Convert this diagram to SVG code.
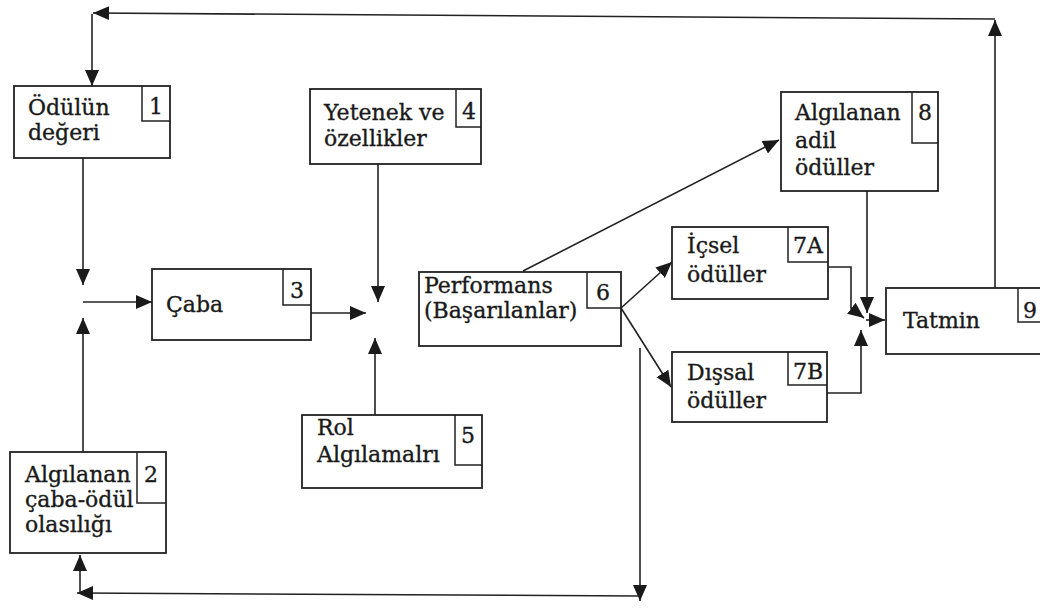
<svg xmlns="http://www.w3.org/2000/svg" width="1040" height="610" viewBox="0 0 1040 610">
<style>
.box{fill:none;stroke:#222;stroke-width:1.8}
.num{fill:none;stroke:#222;stroke-width:1.5}
.t{font-family:"DejaVu Serif","Liberation Serif",serif;font-size:22px;fill:#1a1a1a;stroke:#1a1a1a;stroke-width:0.35}
.n{font-family:"DejaVu Serif","Liberation Serif",serif;font-size:22px;fill:#1a1a1a;stroke:#1a1a1a;stroke-width:0.35;text-anchor:middle}
.c{fill:none;stroke:#222;stroke-width:1.6}
</style>
<defs>
<marker id="ah" markerUnits="userSpaceOnUse" markerWidth="18" markerHeight="16" refX="16" refY="8" orient="auto">
<path d="M0,1 L16,8 L0,15 z" fill="#1a1a1a"/>
</marker>
</defs>
<rect width="1040" height="610" fill="#fff"/>

<g id="n1">
<rect class="box" x="14" y="86" width="156" height="72"/>
<path class="num" d="M142,86 V121 H170"/>
<text class="n" x="156" y="114">1</text>
<text class="t" x="28" y="115">Ödülün</text>
<text class="t" x="28" y="140">değeri</text>
</g>

<g id="n2">
<rect class="box" x="10" y="452" width="156" height="101"/>
<path class="num" d="M137,452 V503 H166"/>
<text class="n" x="151" y="482">2</text>
<text class="t" x="25" y="482">Algılanan</text>
<text class="t" x="25" y="507">çaba-ödül</text>
<text class="t" x="25" y="532">olasılığı</text>
</g>

<g id="n3">
<rect class="box" x="152" y="269" width="159" height="71"/>
<path class="num" d="M283,269 V305 H311"/>
<text class="n" x="297" y="298">3</text>
<text class="t" x="166" y="312">Çaba</text>
</g>

<g id="n4">
<rect class="box" x="310" y="89" width="171" height="75"/>
<path class="num" d="M456,89 V127 H481"/>
<text class="n" x="469" y="119">4</text>
<text class="t" x="324" y="120">Yetenek ve</text>
<text class="t" x="324" y="146">özellikler</text>
</g>

<g id="n5">
<rect class="box" x="302" y="415" width="180" height="73"/>
<path class="num" d="M455,415 V465 H482"/>
<text class="n" x="468" y="443">5</text>
<text class="t" x="317" y="435">Rol</text>
<text class="t" x="317" y="462">Algılamalrı</text>
</g>

<g id="n6">
<rect class="box" x="419" y="272" width="202" height="74"/>
<path class="num" d="M587,272 V308 H621"/>
<text class="n" x="603" y="300">6</text>
<text class="t" x="424" y="293">Performans</text>
<text class="t" x="424" y="318">(Başarılanlar)</text>
</g>

<g id="n7a">
<rect class="box" x="672" y="227" width="156" height="72"/>
<path class="num" d="M788,227 V262 H828"/>
<text class="n" x="808" y="253">7A</text>
<text class="t" x="687" y="253">İçsel</text>
<text class="t" x="687" y="282">ödüller</text>
</g>

<g id="n7b">
<rect class="box" x="672" y="352" width="155" height="70"/>
<path class="num" d="M788,352 V385 H827"/>
<text class="n" x="808" y="379">7B</text>
<text class="t" x="687" y="380">Dışsal</text>
<text class="t" x="687" y="408">ödüller</text>
</g>

<g id="n8">
<rect class="box" x="781" y="92" width="157" height="99"/>
<path class="num" d="M912,92 V143 H938"/>
<text class="n" x="925" y="120">8</text>
<text class="t" x="795" y="120">Algılanan</text>
<text class="t" x="795" y="148">adil</text>
<text class="t" x="795" y="175">ödüller</text>
</g>

<g id="n9">
<rect class="box" x="886" y="288" width="160" height="66"/>
<path class="num" d="M1018,288 V322 H1046"/>
<text class="n" x="1030" y="318">9</text>
<text class="t" x="903" y="328">Tatmin</text>
</g>

<g id="connectors">
<path class="c" d="M83,158 V285" marker-end="url(#ah)"/>
<path class="c" d="M83,302 H152" marker-end="url(#ah)"/>
<path class="c" d="M83,452 V318" marker-end="url(#ah)"/>
<path class="c" d="M311,313 H366" marker-end="url(#ah)"/>
<path class="c" d="M378,164 V302" marker-end="url(#ah)"/>
<path class="c" d="M375,415 V338" marker-end="url(#ah)"/>
<path class="c" d="M523,271 L779,140" marker-end="url(#ah)"/>
<path class="c" d="M621,308 L672,262" marker-end="url(#ah)"/>
<path class="c" d="M621,308 L671,387" marker-end="url(#ah)"/>
<path class="c" d="M828,267 H851 V308 L864,318" marker-end="url(#ah)"/>
<path class="c" d="M867,191 V313" marker-end="url(#ah)"/>
<path class="c" d="M827,393 H861 V330" marker-end="url(#ah)"/>
<path class="c" d="M866,320 H885" marker-end="url(#ah)"/>
<path class="c" d="M995,288 V20" marker-end="url(#ah)"/>
<path class="c" d="M995,19 L93,13" marker-end="url(#ah)"/>
<path class="c" d="M92,14 V86" marker-end="url(#ah)"/>
<path class="c" d="M640,348 V601" marker-end="url(#ah)"/>
<path class="c" d="M640,596 L77,593" marker-end="url(#ah)"/>
<path class="c" d="M80,593 V555" marker-end="url(#ah)"/>
</g>
</svg>
